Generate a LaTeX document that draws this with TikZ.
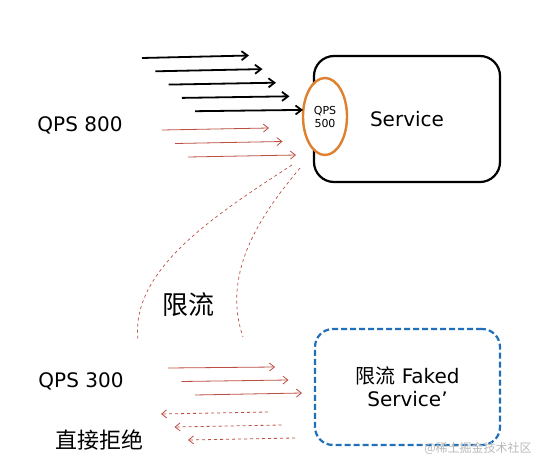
\documentclass[tikz,border=0pt]{standalone}
\usepackage{fontspec}
\setmainfont{DejaVu Sans}
\newfontfamily\cjk{Noto Sans CJK SC}
\usetikzlibrary{shapes.geometric,arrows.meta}
\definecolor{flowred}{RGB}{188,78,66}
\definecolor{qpsorange}{RGB}{222,128,45}
\definecolor{fakeblue}{RGB}{33,110,185}

\begin{document}
\begin{tikzpicture}[x=1pt, y=-1pt,
    box/.style={draw, rounded corners=20pt, line width=2.2pt, align=center, font=\fontsize{20}{23}\selectfont},
    fakebox/.style={box, draw=fakeblue, dash pattern=on 6pt off 3pt, rounded corners=18pt},
    limit/.style={draw=qpsorange, ellipse, line width=2.4pt, fill=white, inner sep=0pt, align=center, font=\fontsize{11}{13}\selectfont},
    lbl/.style={font=\fontsize{20}{24}\selectfont},
    req/.style={-{Straight Barb[length=6pt, width=9pt]}, line width=1.8pt},
    pass/.style={-{Straight Barb[length=5pt, width=8pt]}, draw=flowred, line width=0.8pt},
    reject/.style={pass, dashed},
    funnel/.style={draw=flowred, dashed, line width=0.7pt}]

    \useasboundingbox (0,0) rectangle (544,468);

    % service with its rate limit
    \node[box, minimum width=186pt, minimum height=126pt] (service) at (407,119) {Service};
    \node[limit, minimum width=44pt, minimum height=77pt] (qps500) at (325,116.5) {QPS\\500};

    \node[lbl] (qps800) at (80,125) {QPS 800};
    \node[lbl] (qps300) at (81,381) {QPS 300};
    \node[lbl, font={\cjk\fontsize{26}{30}\selectfont}] (xianliu) at (188,305) {限流};
    \node[lbl, font={\cjk\fontsize{22}{26}\selectfont}] (jujue) at (100,440) {直接拒绝};

    % faked service
    \node[fakebox, minimum width=185pt, minimum height=116pt] (faked) at (407.5,387) {{\cjk 限流} Faked\\Service’};

    % incoming requests
    \foreach \i in {0,...,4} {
        \coordinate (in\i) at (142+13.3*\i, 58+13.3*\i);
        \coordinate (hit\i) at (249+13.5*\i, 55.5+13.6*\i);
        \draw[req] (in\i) -- (hit\i);
    }
    \foreach \i in {0,1,2} {
        \coordinate (over\i) at (162+13*\i, 130+13.5*\i);
        \coordinate (overend\i) at (269+13.5*\i, 128+13.5*\i);
        \draw[pass] (over\i) -- (overend\i);
        \coordinate (low\i) at (168+13.5*\i, 368+13.5*\i);
        \coordinate (lowend\i) at (275+13.5*\i, 367+13*\i);
        \draw[pass] (low\i) -- (lowend\i);
        \coordinate (back\i) at (268+13.5*\i, 412+13*\i);
        \coordinate (backend\i) at (161+13.5*\i, 414+13*\i);
        \draw[reject] (back\i) -- (backend\i);
    }

    % funnel down to the faked service
    \coordinate (fa) at (292,165);
    \coordinate (fb) at (138,340);
    \coordinate (fc) at (300,168);
    \coordinate (fd) at (243,337);
    \draw[funnel] (fa) .. controls (215,215) and (130,270) .. (fb);
    \draw[funnel] (fc) .. controls (265,210) and (220,270) .. (fd);

    \node[font={\cjk\fontsize{12}{14}\selectfont}, text=gray!55] (mark) at (478,448) {@稀土掘金技术社区};
\end{tikzpicture}
\end{document}
